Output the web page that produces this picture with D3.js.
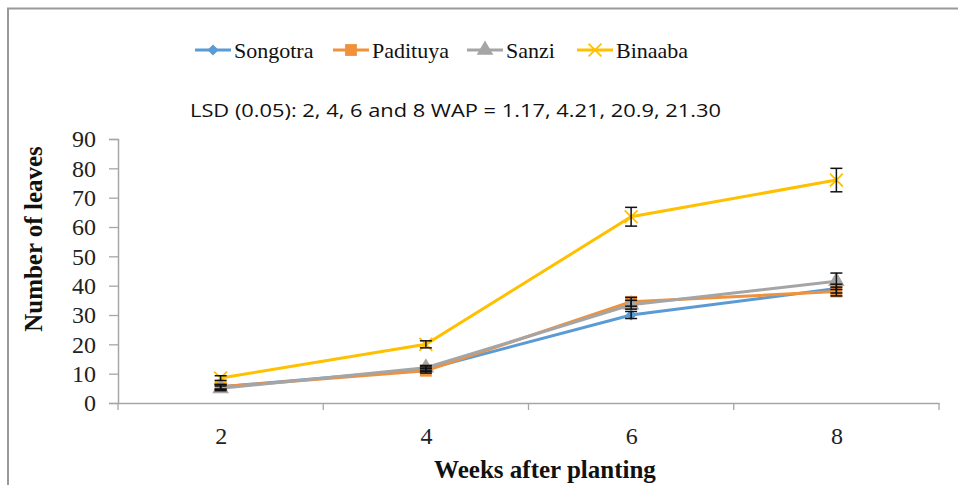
<!DOCTYPE html>
<html>
<head>
<meta charset="utf-8">
<script src="https://cdn.jsdelivr.net/npm/d3@7"></script>
<style>
  body { margin: 0; background: #fff; }
  svg { display: block; }
</style>
</head>
<body>
<svg id="chart" width="958" height="485"></svg>
<script>
// data
const weeks = ['2', '4', '6', '8'];
const songotra = [5.5, 11.5, 30, 39];
const padituya = [5.5, 11, 34.5, 38];
const sanzi    = [5, 12, 33.5, 41.5];
const binaaba  = [8.5, 20, 63.5, 76];
const songotraErr = [0.8, 0.8, 1.2, 1.5];
const padituyaErr = [0.8, 0.8, 1.5, 1.5];
const sanziErr    = [0.8, 0.8, 1.5, 2.8];
const binaabaErr  = [0.8, 1.2, 3.2, 4];
const yTicks = [0, 10, 20, 30, 40, 50, 60, 70, 80, 90];

const series = [
  { name: 'Songotra', values: songotra, err: songotraErr, color: '#5b9bd5', symbol: d3.symbolDiamond2, size: 80 },
  { name: 'Padituya', values: padituya, err: padituyaErr, color: '#f0913c', symbol: d3.symbolSquare, size: 140 },
  { name: 'Sanzi',    values: sanzi,    err: sanziErr,    color: '#a5a5a5', symbol: d3.symbolTriangle, size: 120 },
  { name: 'Binaaba',  values: binaaba,  err: binaabaErr,  color: '#ffc000', symbol: d3.symbolX, size: 110 }
];

const serif = "'Liberation Serif', 'Times New Roman', serif";
const svg = d3.select('#chart');

// outer frame (only top and left edges show in the reference)
svg.append('path')
  .attr('d', 'M8,485V8.5H958')
  .attr('fill', 'none')
  .attr('stroke', '#999')
  .attr('stroke-width', 2);

const x = d3.scalePoint().domain(weeks).range([118, 939]).padding(0.5);
const y = d3.scaleLinear().domain([0, 90]).range([403, 139]);
const axisColor = '#a6a6a6';

// y axis
const yAxis = svg.append('g')
  .attr('transform', 'translate(118,0)')
  .call(d3.axisLeft(y).tickValues(yTicks).tickSize(9).tickPadding(13));
yAxis.attr('font-family', serif);
yAxis.select('.domain').attr('stroke', axisColor).attr('stroke-width', 1.5);
yAxis.selectAll('.tick line').attr('stroke', axisColor).attr('stroke-width', 1.3);
yAxis.selectAll('.tick text')
  .style('font-family', serif).attr('font-size', 24).attr('fill', '#222');

// x axis (category ticks sit between the groups)
const xAxis = svg.append('g')
  .attr('transform', 'translate(0,403)')
  .call(d3.axisBottom(x).tickSize(0).tickPadding(24));
xAxis.attr('font-family', serif);
xAxis.select('.domain').attr('stroke', axisColor).attr('stroke-width', 1.5);
xAxis.selectAll('.tick text')
  .style('font-family', serif).attr('font-size', 24).attr('fill', '#222');
const step = x.step();
const bounds = weeks.map(w => x(w) - step / 2).concat([x(weeks[weeks.length - 1]) + step / 2]);
xAxis.selectAll('.cat-tick')
  .data(bounds)
  .join('line')
  .attr('x1', d => d).attr('x2', d => d)
  .attr('y1', 0).attr('y2', 7)
  .attr('stroke', axisColor).attr('stroke-width', 1.3);

// axis titles
svg.append('text')
  .attr('transform', 'translate(42,239) rotate(-90)')
  .attr('text-anchor', 'middle')
  .style('font-family', serif)
  .attr('font-weight', 'bold').attr('font-size', 25)
  .attr('fill', '#111')
  .text('Number of leaves');

svg.append('text')
  .attr('x', 545).attr('y', 478)
  .attr('text-anchor', 'middle')
  .style('font-family', serif)
  .attr('font-weight', 'bold').attr('font-size', 25)
  .attr('fill', '#111')
  .text('Weeks after planting');

// LSD note
svg.append('text')
  .attr('x', 190).attr('y', 117)
  .style('font-family', "'Open Sans', 'Liberation Sans', sans-serif").attr('font-size', 19)
  .attr('textLength', 531).attr('lengthAdjust', 'spacingAndGlyphs')
  .attr('fill', '#111')
  .text('LSD (0.05): 2, 4, 6 and 8 WAP = 1.17, 4.21, 20.9, 21.30');

// lines
const line = d3.line().x((d, i) => x(weeks[i])).y(d => y(d));
svg.selectAll('.series-line')
  .data(series)
  .join('path')
  .attr('class', 'series-line')
  .attr('d', s => line(s.values))
  .attr('fill', 'none')
  .attr('stroke', s => s.color)
  .attr('stroke-width', 3);

// markers
series.forEach(s => {
  svg.append('g')
    .selectAll('path')
    .data(s.values)
    .join('path')
    .attr('transform', (d, i) => `translate(${x(weeks[i])},${y(d)})`)
    .attr('d', d3.symbol().type(s.symbol).size(s.size))
    .attr('fill', s.symbol === d3.symbolX ? 'none' : s.color)
    .attr('stroke', s.symbol === d3.symbolX ? s.color : 'none')
    .attr('stroke-width', 1.8);
});

// error bars
series.forEach(s => {
  const g = svg.append('g').attr('stroke', '#111').attr('stroke-width', 1.5);
  s.values.forEach((v, i) => {
    const cx = x(weeks[i]);
    const top = y(v + s.err[i]);
    const bot = y(v - s.err[i]);
    g.append('line').attr('x1', cx).attr('x2', cx).attr('y1', top).attr('y2', bot);
    g.append('line').attr('x1', cx - 6).attr('x2', cx + 6).attr('y1', top).attr('y2', top);
    g.append('line').attr('x1', cx - 6).attr('x2', cx + 6).attr('y1', bot).attr('y2', bot);
  });
});

// legend
const legendX = [195, 333, 467, 577];
const legend = svg.append('g');
series.forEach((s, i) => {
  const lg = legend.append('g').attr('transform', `translate(${legendX[i]},50)`);
  lg.append('line').attr('x1', 0).attr('x2', 36).attr('y1', 0).attr('y2', 0)
    .attr('stroke', s.color).attr('stroke-width', 3);
  lg.append('path')
    .attr('transform', 'translate(18,0)')
    .attr('d', d3.symbol().type(s.symbol).size(s.size))
    .attr('fill', s.symbol === d3.symbolX ? 'none' : s.color)
    .attr('stroke', s.symbol === d3.symbolX ? s.color : 'none')
    .attr('stroke-width', 1.8);
  lg.append('text')
    .attr('x', 39).attr('y', 8)
    .style('font-family', serif)
    .attr('font-size', 22)
    .attr('fill', '#111')
    .text(s.name);
});
</script>
</body>
</html>
